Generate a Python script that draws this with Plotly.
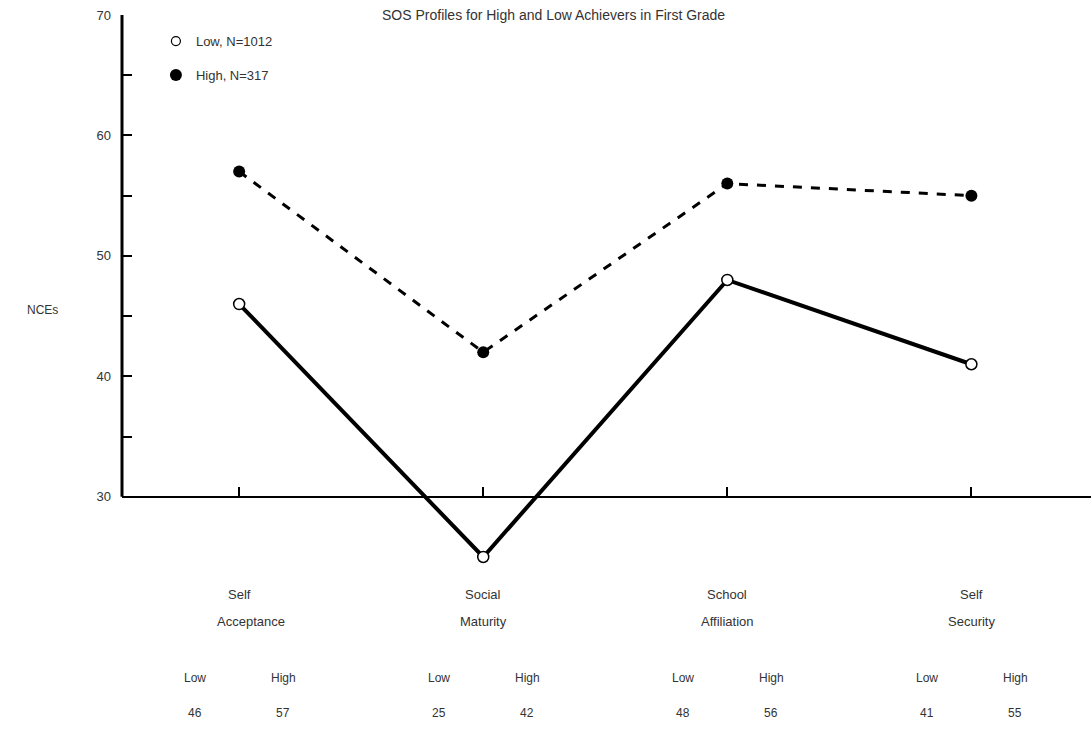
import plotly.graph_objects as go

# Datos
categorias = ["Self<br>Acceptance", "Social<br>Maturity", "School<br>Affiliation", "Self<br>Security"]
cat_linea1 = ["Self", "Social", "School", "Self"]
cat_linea2 = ["Acceptance", "Maturity", "Affiliation", "Security"]
valores_low = [46, 25, 48, 41]
valores_high = [57, 42, 56, 55]
nombre_low = "Low, N=1012"
nombre_high = "High, N=317"
titulo = "SOS Profiles for High and Low Achievers in First Grade"

x = list(range(len(categorias)))
texto = "#333333"
fuente = "Liberation Sans"

fig = go.Figure()

# High: linea discontinua, puntos rellenos
fig.add_trace(go.Scatter(
    x=x, y=valores_high, mode="lines+markers", showlegend=False,
    line=dict(color="black", width=3, dash="dash"),
    marker=dict(color="black", size=12)
))

# Low: linea continua gruesa, circulos abiertos
fig.add_trace(go.Scatter(
    x=x, y=valores_low, mode="lines+markers", showlegend=False,
    line=dict(color="black", width=4),
    marker=dict(color="white", size=11, line=dict(color="black", width=1.5))
))

# Entradas de leyenda solo con marcador
fig.add_trace(go.Scatter(
    x=[None], y=[None], mode="markers", name=nombre_low, legendgroup="a",
    marker=dict(color="white", size=9, line=dict(color="black", width=1.2))
))
fig.add_trace(go.Scatter(
    x=[None], y=[None], mode="markers", name=nombre_high, legendgroup="b",
    marker=dict(color="black", size=12)
))

# Eje Y dibujado solo entre 30 y 70
fig.add_shape(type="line", xref="paper", x0=0, x1=0, yref="y", y0=30, y1=70,
              line=dict(color="black", width=3))

# Etiquetas de categoria y tabla de valores
anotaciones = []
for i in x:
    anotaciones.append(dict(x=i, y=-0.063, text=cat_linea1[i], font_size=13))
    anotaciones.append(dict(x=i + 0.05 if i == 0 else i, y=-0.112, text=cat_linea2[i], font_size=13))
    anotaciones.append(dict(x=i - 0.18, y=-0.213, text="Low", font_size=12))
    anotaciones.append(dict(x=i + 0.18, y=-0.213, text="High", font_size=12))
    anotaciones.append(dict(x=i - 0.18, y=-0.276, text=str(valores_low[i]), font_size=12))
    anotaciones.append(dict(x=i + 0.18, y=-0.276, text=str(valores_high[i]), font_size=12))
for a in anotaciones:
    fig.add_annotation(xref="x", yref="paper", showarrow=False,
                       font=dict(color=texto, family=fuente), **a)

fig.add_annotation(xref="paper", yref="paper", x=0.445, y=1.0, yanchor="middle",
                   text=titulo, showarrow=False,
                   font=dict(size=14, color=texto, family=fuente))
fig.add_annotation(xref="paper", yref="y", x=-0.1, y=45.5, text="NCEs",
                   showarrow=False, font=dict(size=12, color=texto, family=fuente))

fig.update_xaxes(
    range=[-0.48, 3.49], anchor="free", position=(30 - 24) / (70 - 24),
    showline=True, linecolor="black", linewidth=2, automargin=False,
    tickvals=x, ticks="inside", ticklen=9, tickwidth=2, tickcolor="black",
    showticklabels=False, showgrid=False, zeroline=False
)
fig.update_yaxes(
    range=[24, 70], showline=False, showgrid=False, zeroline=False,
    automargin=False,
    tickvals=list(range(30, 71, 5)),
    ticktext=[str(v) if v % 10 == 0 else "" for v in range(30, 71, 5)],
    ticks="inside", ticklen=10, tickwidth=2, tickcolor="black",
    ticklabelstandoff=10,
    tickfont=dict(size=13, color=texto, family=fuente)
)

fig.update_layout(
    width=1091, height=738,
    margin=dict(l=122, r=0, t=15, b=169),
    plot_bgcolor="white", paper_bgcolor="white",
    legend=dict(x=0.035, y=0.98, xanchor="left", yanchor="top",
                traceorder="grouped", tracegroupgap=14,
                bgcolor="rgba(0,0,0,0)",
                font=dict(size=13, color=texto, family=fuente)),
    font=dict(family=fuente)
)

fig.write_html("out.html", config={"displayModeBar": False},
               post_script="document.body.style.margin = '0';")
